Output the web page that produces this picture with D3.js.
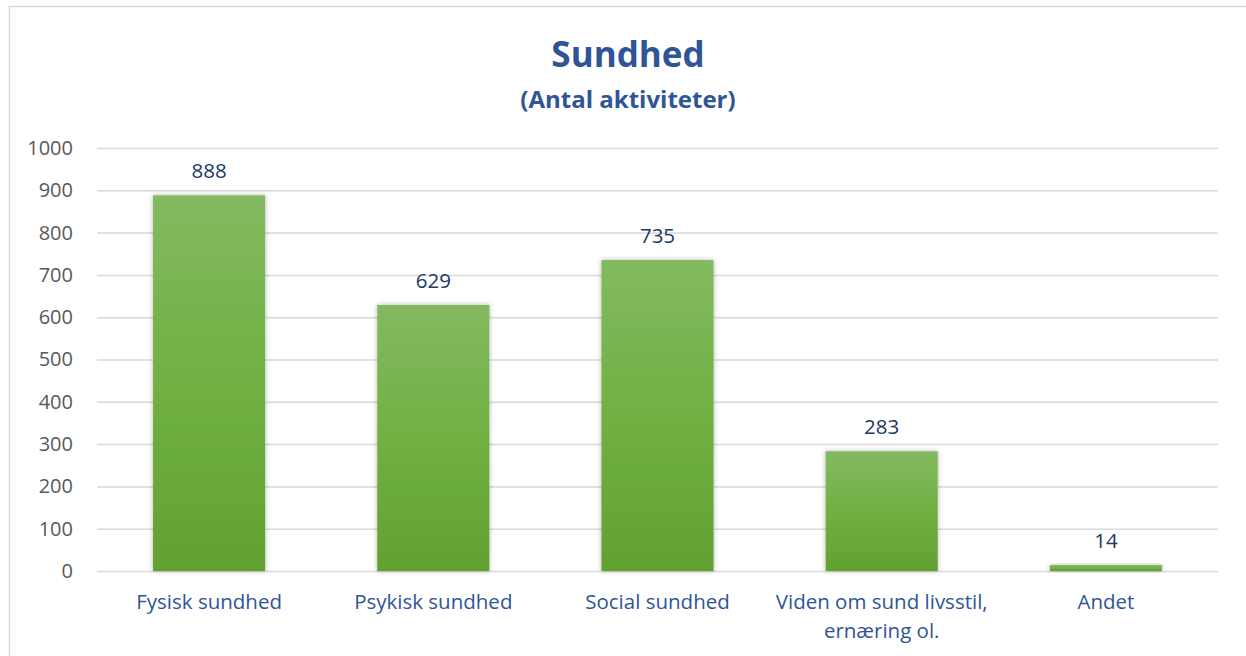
<!DOCTYPE html>
<html>
<head>
<meta charset="utf-8">
<script src="https://cdn.jsdelivr.net/npm/d3@7"></script>
<style>
  body { margin: 0; background: #fff; }
  svg { display: block; font-family: "Open Sans", Lato, sans-serif; }
</style>
</head>
<body>
<svg width="1246" height="656"></svg>
<script>
const categories = [
  ["Fysisk sundhed"],
  ["Psykisk sundhed"],
  ["Social sundhed"],
  ["Viden om sund livsstil,", "ernæring ol."],
  ["Andet"],
];
const values = [888, 629, 735, 283, 14];
const yTicks = [0, 100, 200, 300, 400, 500, 600, 700, 800, 900, 1000];

const svg = d3.select("svg");
const w = 1246, h = 656;
const margin = { top: 148, right: 28, bottom: 85, left: 97 };

// chart frame
svg.append("rect")
  .attr("x", 9.5).attr("y", 6.5)
  .attr("width", w + 20).attr("height", h + 20)
  .attr("fill", "#fff")
  .attr("stroke", "#d9d9d9")
  .attr("stroke-width", 1.5);

const defs = svg.append("defs");
const grad = defs.append("linearGradient")
  .attr("id", "barGrad")
  .attr("x1", 0).attr("y1", 0).attr("x2", 0).attr("y2", 1);
grad.append("stop").attr("offset", "0%").attr("stop-color", "#83b95f");
grad.append("stop").attr("offset", "50%").attr("stop-color", "#70b143");
grad.append("stop").attr("offset", "100%").attr("stop-color", "#61a131");

const shadow = defs.append("filter")
  .attr("id", "shadow")
  .attr("x", "-20%").attr("y", "-20%")
  .attr("width", "140%").attr("height", "140%");
shadow.append("feDropShadow")
  .attr("dx", 0).attr("dy", 0)
  .attr("stdDeviation", 2.5)
  .attr("flood-color", "#000")
  .attr("flood-opacity", 0.3);

const x = d3.scaleBand()
  .domain(d3.range(values.length))
  .range([margin.left, w - margin.right])
  .paddingInner(0.5)
  .paddingOuter(0.25);

const y = d3.scaleLinear()
  .domain([0, 1000])
  .range([h - margin.bottom, margin.top]);

// title
svg.append("text")
  .attr("x", 628).attr("y", 67)
  .attr("text-anchor", "middle")
  .attr("font-size", 35).attr("font-weight", "bold")
  .attr("fill", "#2f5597")
  .text("Sundhed");
svg.append("text")
  .attr("x", 628).attr("y", 108)
  .attr("text-anchor", "middle")
  .attr("font-size", 24).attr("font-weight", "bold")
  .attr("fill", "#2f5597")
  .text("(Antal aktiviteter)");

// gridlines + y labels
const yAxis = svg.append("g")
  .attr("transform", `translate(${margin.left},0)`)
  .call(d3.axisLeft(y).tickValues(yTicks)
    .tickFormat(d3.format("d"))
    .tickSize(-(w - margin.left - margin.right))
    .tickPadding(24));
yAxis.select(".domain").remove();
yAxis.selectAll(".tick line")
  .attr("stroke", "#d9d9d9")
  .attr("stroke-width", 1.5);
yAxis.selectAll(".tick text")
  .attr("font-size", 20)
  .attr("fill", "#595959")
  .attr("font-family", "'Open Sans', sans-serif");

// bars
svg.append("g").selectAll("rect")
  .data(values)
  .join("rect")
  .attr("x", (d, i) => x(i))
  .attr("y", d => y(d))
  .attr("width", x.bandwidth())
  .attr("height", d => y(0) - y(d))
  .attr("fill", "url(#barGrad)")
  .attr("filter", "url(#shadow)");

// value labels
svg.append("g").selectAll("text")
  .data(values)
  .join("text")
  .attr("x", (d, i) => x(i) + x.bandwidth() / 2)
  .attr("y", d => y(d) - 17)
  .attr("text-anchor", "middle")
  .attr("font-size", 20.5)
  .attr("fill", "#203864")
  .text(d => d);

// category labels
const cat = svg.append("g").selectAll("text")
  .data(categories)
  .join("text")
  .attr("x", (d, i) => x(i) + x.bandwidth() / 2)
  .attr("y", 609)
  .attr("text-anchor", "middle")
  .attr("font-size", 20.5)
  .attr("fill", "#2f5597");
cat.selectAll("tspan")
  .data(d => d)
  .join("tspan")
  .attr("x", function () { return d3.select(this.parentNode).attr("x"); })
  .attr("dy", (d, i) => i === 0 ? 0 : 29)
  .text(d => d);
</script>
</body>
</html>
